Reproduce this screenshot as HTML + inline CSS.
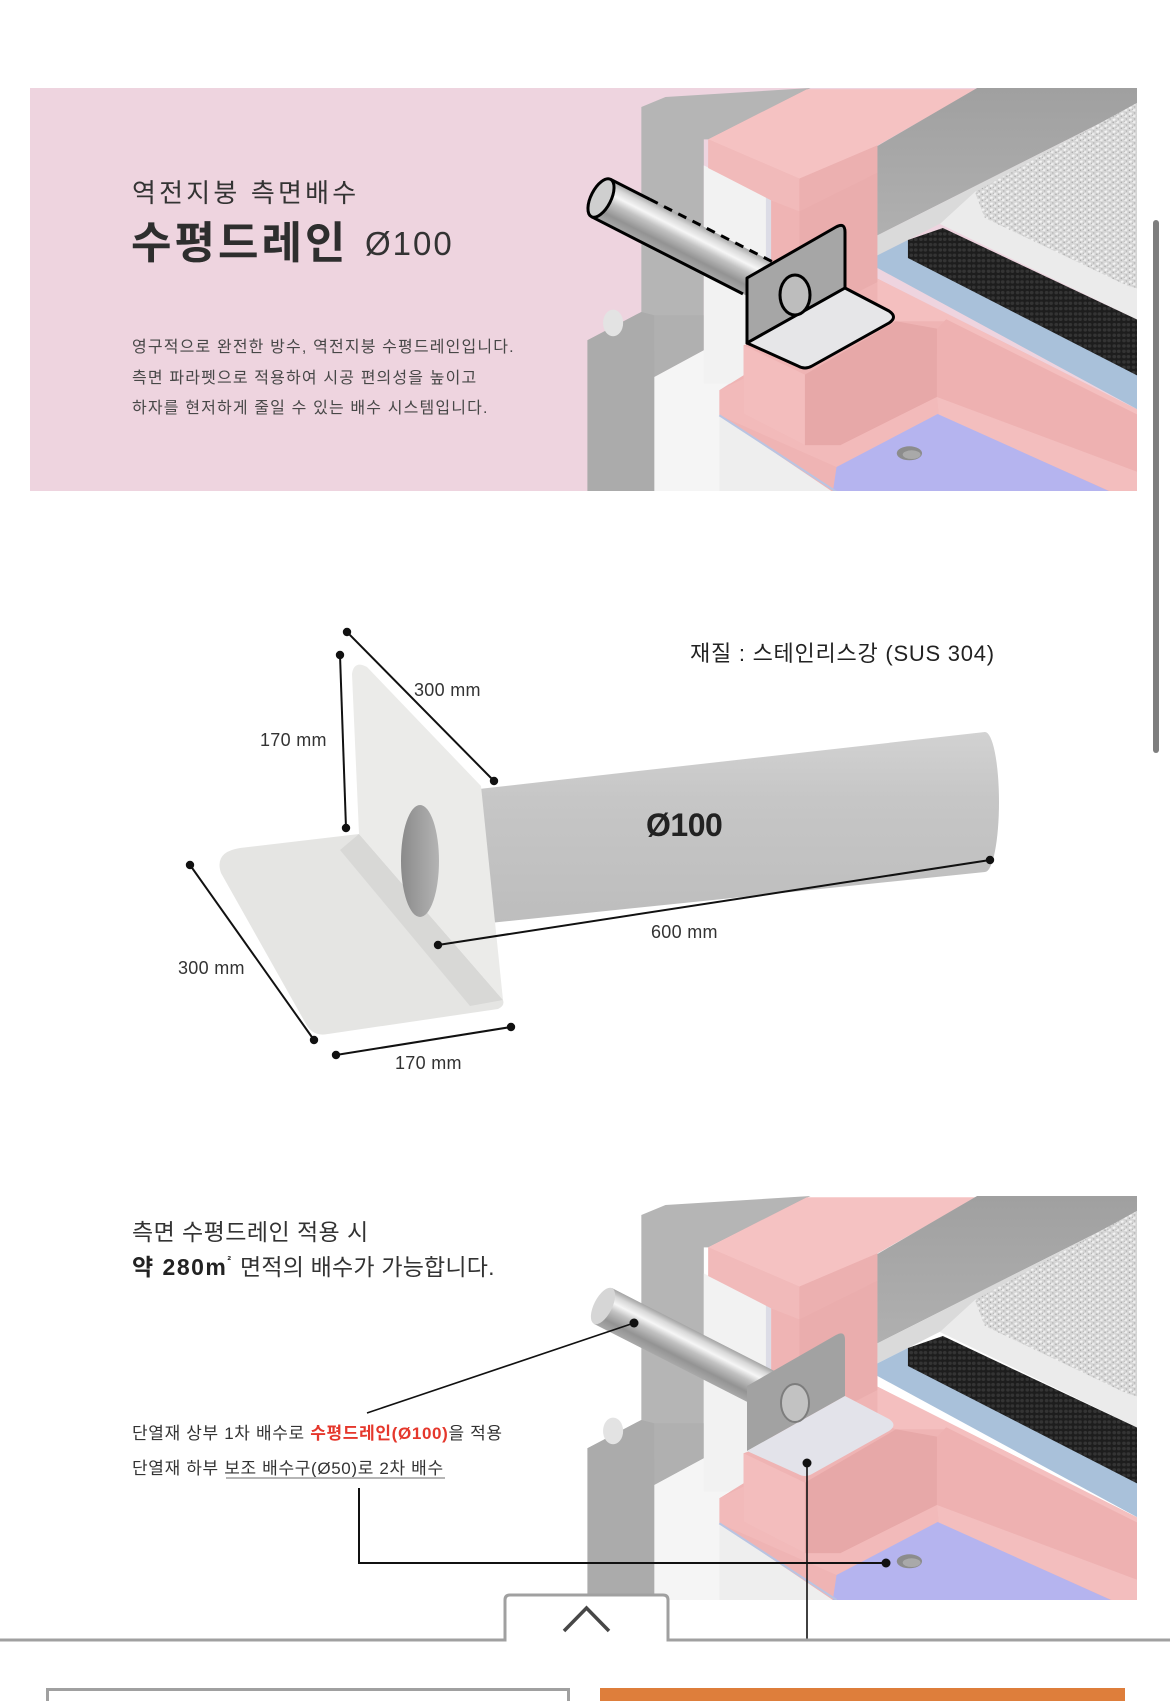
<!DOCTYPE html>
<html><head><meta charset="utf-8">
<style>
html,body{margin:0;padding:0;background:#fff;}
body{width:1170px;height:1701px;overflow:hidden;position:relative;}
svg{position:absolute;left:0;top:0;}
text{font-family:"Liberation Sans","Noto Sans CJK KR",sans-serif;}
.lat{font-family:"Liberation Sans",sans-serif;}
</style></head>
<body>
<svg width="1170" height="1701" viewBox="0 0 1170 1701" xmlns="http://www.w3.org/2000/svg">
<defs>
  <linearGradient id="metal" x1="0" y1="0" x2="0" y2="1">
    <stop offset="0" stop-color="#a4a4a4"/>
    <stop offset="0.15" stop-color="#d8d8d8"/>
    <stop offset="0.32" stop-color="#f6f6f6"/>
    <stop offset="0.5" stop-color="#c2c2c2"/>
    <stop offset="0.78" stop-color="#939393"/>
    <stop offset="1" stop-color="#a9a9a9"/>
  </linearGradient>
  <linearGradient id="pipeP" x1="0" y1="0" x2="0" y2="1">
    <stop offset="0" stop-color="#d2d2d2"/>
    <stop offset="0.35" stop-color="#c6c6c6"/>
    <stop offset="1" stop-color="#bdbdbd"/>
  </linearGradient>
  <linearGradient id="holeG" x1="0" y1="0" x2="1" y2="0">
    <stop offset="0" stop-color="#8a8a8a"/>
    <stop offset="1" stop-color="#b4b4b4"/>
  </linearGradient>
  <linearGradient id="wallG" x1="0" y1="0" x2="0" y2="1">
    <stop offset="0" stop-color="#a0a0a0"/>
    <stop offset="1" stop-color="#b0b0b0"/>
  </linearGradient>
  <pattern id="grv" width="22" height="18" patternUnits="userSpaceOnUse">
    <rect width="22" height="18" fill="#d6d6d6"/>
    <polygon points="2,3 9,1 11,7 4,9" fill="#f3f3f3"/>
    <polygon points="13,10 20,9 19,16 12,15" fill="#eeeeee"/>
    <polygon points="10,8 13,9 12,12" fill="#8e8e8e"/>
    <polygon points="1,12 5,11 6,16" fill="#9a9a9a"/>
    <polygon points="15,1 20,2 18,6" fill="#a5a5a5"/>
  </pattern>
  <pattern id="mat" width="26" height="16" patternUnits="userSpaceOnUse">
    <rect width="26" height="16" fill="#1d1d1d"/>
    <circle cx="7" cy="8" r="5" fill="#343434"/>
    <circle cx="19" cy="8" r="5" fill="#343434"/>
  </pattern>
  <clipPath id="clipTop"><rect x="586" y="88" width="551" height="403"/></clipPath>
  <clipPath id="clipBot"><rect x="586" y="1196" width="551" height="404"/></clipPath>

  <g id="scene">
    <polygon points="165,75 230,45 620,18 345,172 333,172 333,805 200,885 200,1230 20,1230 20,775 165,690" fill="#b5b5b5"/>
    <polygon points="20,775 165,690 200,700 200,1230 20,1230" fill="#ababab"/>
    <polygon points="200,700 333,700 333,805 200,885" fill="#b0b0b0"/>
    <ellipse cx="89" cy="723" rx="27" ry="40" fill="#e3e3e3"/>
    <polygon points="200,885 333,805 440,875 375,925 375,1000 690,1230 200,1230" fill="#f5f5f5"/>
    <polygon points="375,1000 690,1230 375,1230" fill="#eeeeee"/>
    <polygon points="333,250 514,350 514,905 333,905" fill="#f2f2f2"/>
    <polygon points="500,345 514,350 514,905 500,905" fill="#dcdce6"/>
    <polygon points="345,172 610,22 1065,22 800,190 800,590 1512,990 1512,1230 680,1230 375,1000 375,925 440,880 440,790 514,760 514,350 345,258" fill="#efb4b4"/>
    <polygon points="345,172 610,22 1065,22 800,190 590,290" fill="#f5c2c2"/>
    <polygon points="345,172 590,290 590,388 514,355 345,258" fill="#f1baba"/>
    <polygon points="590,290 800,190 800,272 590,388" fill="#ecb0b0"/>
    <polygon points="590,388 800,272 800,600 590,720" fill="#eaadad"/>
    <polygon points="440,790 605,878 605,1090 440,995" fill="#f3bdbd"/>
    <polygon points="605,878 850,718 960,740 960,945 700,1090 605,1090" fill="#e7a8a8"/>
    <polygon points="800,590 1512,990 1512,1010 985,718 850,718 800,700" fill="#f4bfbf"/>
    <polygon points="960,740 985,712 1512,1005 1512,1175 960,945" fill="#eeb1b1"/>
    <polygon points="375,925 440,890 440,995 605,1090 700,1090 960,945 965,1000 690,1155 375,1000" fill="#f2baba"/>
    <polygon points="960,945 1512,1175 1512,1230 1430,1230 965,1000" fill="#f3bebe"/>
    <polygon points="690,1155 962,996 1428,1230 680,1230" fill="#b5b4ef"/>
    <line x1="375" y1="1000" x2="690" y2="1230" stroke="#b9c4e2" stroke-width="6"/>
    <ellipse cx="886" cy="1114" rx="34" ry="21" fill="#8c8c8c"/>
    <ellipse cx="892" cy="1118" rx="24" ry="13" fill="#a9a9a9"/>
    <polygon points="800,192 1068,18 1512,18 1512,60 800,460" fill="url(#wallG)"/>
    <polygon points="800,460 1512,60 1512,117 882,474 800,520" fill="#dadada"/>
    <polygon points="800,520 882,474 1512,860 1512,990 800,558" fill="#a9c1da"/>
    <polygon points="968,426 1062,330 1512,624 1512,720" fill="#ebebeb"/>
    <polygon points="882,474 976,438 1512,720 1512,888 882,528" fill="url(#mat)"/>
    <polygon points="1062,330 1512,54 1512,624 1470,610 1089,408" fill="url(#grv)"/>
  </g>
</defs>

<!-- ============ TOP BANNER ============ -->
<rect x="30" y="88" width="1107" height="403" fill="#eed4df"/>
<text x="132" y="202" font-size="26" letter-spacing="3.2" fill="#333">역전지붕 측면배수</text>
<text x="131" y="258" font-size="44" font-weight="bold" letter-spacing="3" fill="#2e2e2e">수평드레인</text>
<text x="365" y="255" font-size="33" letter-spacing="2" fill="#333" class="lat">Ø100</text>
<text x="132" y="352" font-size="16" letter-spacing="1.15" fill="#474747">영구적으로 완전한 방수, 역전지붕 수평드레인입니다.</text>
<text x="132" y="383" font-size="16" letter-spacing="1.15" fill="#474747">측면 파라펫으로 적용하여 시공 편의성을 높이고</text>
<text x="132" y="413" font-size="16" letter-spacing="1.15" fill="#474747">하자를 현저하게 줄일 수 있는 배수 시스템입니다.</text>

<g clip-path="url(#clipTop)">
  <use href="#scene" transform="translate(580,82) scale(0.3718,0.3333)"/>
  <g transform="translate(601,198) rotate(27)">
    <rect x="0" y="-21" width="218" height="42" fill="url(#metal)"/>
    <line x1="0" y1="-21" x2="44" y2="-21" stroke="#000" stroke-width="3"/>
    <line x1="44" y1="-21" x2="190" y2="-21" stroke="#000" stroke-width="3" stroke-dasharray="9,7"/>
    <line x1="0" y1="21" x2="170" y2="21" stroke="#000" stroke-width="3"/>
    <ellipse cx="0" cy="0" rx="10" ry="21" fill="#cfcfcf" stroke="#000" stroke-width="3"/>
  </g>
  <path d="M747,278 L836,227 Q845,222 845,232 L845,288 L747,343 Z" fill="#a6a6a6" stroke="#000" stroke-width="3" stroke-linejoin="round"/>
  <path d="M747,343 L845,288 L889,311 Q898,317 889,323 L812,366 Q805,370 798,366 Z" fill="#e6e6e8" stroke="#000" stroke-width="3" stroke-linejoin="round"/>
  <ellipse cx="795" cy="295" rx="15" ry="20" fill="#bdbdbd" stroke="#000" stroke-width="3"/>
</g>

<rect x="1153" y="220" width="6" height="533" rx="3" fill="#7e7e7e"/>

<!-- ============ PRODUCT DIAGRAM ============ -->
<text x="690" y="661" font-size="22" letter-spacing="0.75" fill="#222">재질 : 스테인리스강 (SUS 304)</text>

<path d="M470,790 L985,732 A14,70 0 0 1 985,872 L470,925 Z" fill="url(#pipeP)"/>
<text x="646" y="836" font-size="32" font-weight="bold" letter-spacing="-0.5" fill="#222" class="lat">Ø100</text>
<path d="M359,834 L240,848 Q214,852 221,873 L306,1024 Q313,1037 328,1034 L498,1009 Q505,1006 503,1000 Z" fill="#e5e5e3"/>
<polygon points="359,834 503,1000 470,1006 340,850" fill="#d8d8d6"/>
<path d="M352,674 Q354,660 367,667 L481,786 L503,1000 L359,834 Z" fill="#ebebe9"/>
<ellipse cx="420" cy="861" rx="19" ry="56" fill="url(#holeG)"/>

<g stroke="#111" stroke-width="2" fill="#111">
  <line x1="347" y1="632" x2="494" y2="781"/>
  <line x1="340" y1="655" x2="346" y2="828"/>
  <line x1="438" y1="945" x2="990" y2="860"/>
  <line x1="190" y1="865" x2="314" y2="1040"/>
  <line x1="336" y1="1055" x2="511" y2="1027"/>
  <circle cx="347" cy="632" r="3.2"/><circle cx="494" cy="781" r="3.2"/>
  <circle cx="340" cy="655" r="3.2"/><circle cx="346" cy="828" r="3.2"/>
  <circle cx="438" cy="945" r="3.2"/><circle cx="990" cy="860" r="3.2"/>
  <circle cx="190" cy="865" r="3.2"/><circle cx="314" cy="1040" r="3.2"/>
  <circle cx="336" cy="1055" r="3.2"/><circle cx="511" cy="1027" r="3.2"/>
</g>
<g font-size="18" fill="#333" letter-spacing="0.3">
  <text x="414" y="696" class="lat">300 mm</text>
  <text x="260" y="746" class="lat">170 mm</text>
  <text x="651" y="938" class="lat">600 mm</text>
  <text x="178" y="974" class="lat">300 mm</text>
  <text x="395" y="1069" class="lat">170 mm</text>
</g>

<!-- ============ BOTTOM SECTION ============ -->
<text x="132" y="1240" font-size="23" letter-spacing="0.45" fill="#333">측면 수평드레인 적용 시</text>
<text x="132" y="1275" font-size="23" fill="#222"><tspan font-weight="bold" letter-spacing="1.5">약 280m</tspan><tspan font-size="11" dy="-11" font-weight="bold">²</tspan><tspan x="240" dy="11" letter-spacing="0.2" fill="#333">면적의 배수가 가능합니다.</tspan></text>
<text x="132" y="1439" font-size="17" letter-spacing="0.65" fill="#333">단열재 상부 1차 배수로 <tspan fill="#e5372c" font-weight="bold">수평드레인(Ø100)</tspan>을 적용</text>
<text x="132" y="1474" font-size="17" letter-spacing="0.65" fill="#333">단열재 하부 보조 배수구(Ø50)로 2차 배수</text>
<line x1="226" y1="1478" x2="445" y2="1478" stroke="#b5b5b5" stroke-width="2"/>

<g clip-path="url(#clipBot)">
  <use href="#scene" transform="translate(580,1190) scale(0.3718,0.3333)"/>
  <g transform="translate(603,1306) rotate(27)">
    <rect x="0" y="-20" width="216" height="40" fill="url(#metal)"/>
    <ellipse cx="0" cy="0" rx="9" ry="20" fill="#d6d6d6"/>
  </g>
  <path d="M747,1386 L836,1335 Q845,1330 845,1340 L845,1396 L747,1451 Z" fill="#a2a2a2"/>
  <path d="M747,1451 L845,1396 L889,1419 Q898,1425 889,1431 L812,1474 Q805,1478 798,1474 Z" fill="#e3e3ea"/>
  <ellipse cx="795" cy="1403" rx="14" ry="19" fill="#c2c2c2" stroke="#7d7d7d" stroke-width="2"/>
</g>

<g stroke="#111" fill="none">
  <line x1="367" y1="1413" x2="634" y2="1323" stroke-width="1.6"/>
  <line x1="807" y1="1463" x2="807" y2="1640" stroke-width="1.6"/>
  <polyline points="359,1488 359,1563 886,1563" stroke-width="2"/>
</g>
<g fill="#111">
  <circle cx="634" cy="1323" r="4.5"/>
  <circle cx="807" cy="1463" r="4.5"/>
  <circle cx="886" cy="1563" r="4.5"/>
</g>

<rect x="506" y="1596" width="161" height="46" fill="#fff"/>
<path d="M0,1640 H505 V1600 Q505,1595 510,1595 H663 Q668,1595 668,1600 V1640 H1170" fill="none" stroke="#a0a0a0" stroke-width="3"/>
<polyline points="564,1631 586.5,1608 609,1631" fill="none" stroke="#474747" stroke-width="3.5"/>
<rect x="47.5" y="1689.5" width="521" height="30" fill="#fff" stroke="#a0a0a0" stroke-width="3"/>
<rect x="600" y="1688" width="525" height="30" fill="#de7e3b"/>
</svg>
</body></html>
